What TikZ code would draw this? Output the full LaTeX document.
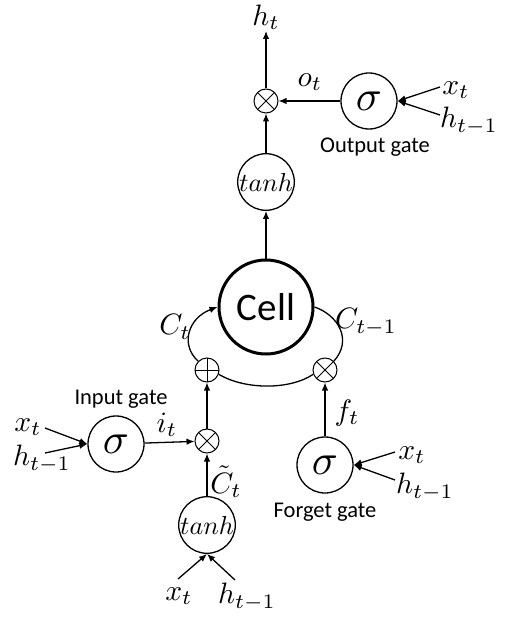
\documentclass[tikz,border=0pt]{standalone}
\usepackage{fontspec}
\setmainfont{Carlito}
\usepackage{graphicx}
\usepackage{tikz}
\usetikzlibrary{arrows.meta}

\newcommand{\mlab}[1]{\scalebox{2.95}{$#1$}}
\newcommand{\sigsym}{\scalebox{4.3}{$\sigma$}}
\newcommand{\tanhsym}{\scalebox{2.6}{$tanh$}}
\newcommand{\gatefont}{\fontsize{22.5}{24}\selectfont}
\newcommand{\cellfont}{\fontsize{39}{40}\selectfont}

\begin{document}
\begin{tikzpicture}[x=1pt, y=-1pt,
    arr/.style={-{Latex[length=8pt,width=6.5pt]}, line width=1.3pt},
    gate/.style={circle, draw, line width=1.3pt, minimum size=56pt, inner sep=0pt},
    opnode/.style={circle, draw, line width=1pt, minimum size=24pt, inner sep=0pt},
    mulop/.style={opnode, path picture={\draw[line width=0.8pt] (path picture bounding box.north west) -- (path picture bounding box.south east) (path picture bounding box.north east) -- (path picture bounding box.south west);}},
    addop/.style={opnode, path picture={\draw[line width=0.8pt] (path picture bounding box.north) -- (path picture bounding box.south) (path picture bounding box.west) -- (path picture bounding box.east);}},
    lbl/.style={inner sep=1pt},
    txt/.style={inner sep=0pt, font=\gatefont}]
    \useasboundingbox (0,0) rectangle (505,617);

    % Cell 和上面的输出
    \node[circle, draw, line width=3pt, minimum size=94pt, inner sep=0pt, font=\cellfont] (cell) at (266,307) {Cell};
    \node[gate, minimum size=55pt] (tanhC) at (266,182) {\tanhsym};
    \node[mulop] (mulO) at (266,101) {};
    \node[lbl, anchor=south] (ht) at (266,31) {\mlab{h_t}};
    \draw[arr] (cell) -- (tanhC);
    \draw[arr] (tanhC) -- (mulO);
    \draw[arr] (mulO) -- (ht);

    % Output gate
    \node[gate] (sigO) at (369,101) {\sigsym};
    \node[txt] (outgate) at (375,147) {Output gate};
    \node[lbl] (ot) at (310,82) {\mlab{o_t}};
    \node[lbl] (xO) at (456,90) {\mlab{x_t}};
    \node[lbl] (hO) at (469,121) {\mlab{h_{t-1}}};
    \coordinate (cxO) at (440,87);
    \coordinate (chO) at (440,115);
    \draw[arr] (sigO) -- (mulO);
    \draw[arr] (cxO) -- (sigO.east);
    \draw[arr] (chO) -- (sigO.east);

    % C_t 的更新
    \node[addop] (addC) at (207,370) {};
    \node[mulop] (mulF) at (325,370) {};
    \node[lbl] (Ct) at (175,327) {\mlab{C_t}};
    \node[lbl] (Ct1) at (366,322) {\mlab{C_{t-1}}};
    \draw[arr] (addC.135) .. controls (180,345) and (188,318) .. (cell.west);
    \draw[line width=1.3pt] (cell.east) .. controls (338,315) and (353,340) .. (mulF.45);
    \draw[line width=1.3pt] (addC.-20) .. controls (245,390) and (290,390) .. (mulF.200);

    % Input gate
    \node[gate] (sigI) at (116,444) {\sigsym};
    \node[txt] (ingate) at (121,399) {Input gate};
    \node[mulop] (mulI) at (207,441) {};
    \node[lbl] (it) at (167,425) {\mlab{i_t}};
    \node[lbl] (xI) at (28,427) {\mlab{x_t}};
    \node[lbl] (hI) at (42,459) {\mlab{h_{t-1}}};
    \coordinate (cxI) at (45,428);
    \coordinate (chI) at (45,453);
    \draw[arr] (cxI) -- (sigI.west);
    \draw[arr] (chI) -- (sigI.west);
    \draw[arr] (sigI) -- (mulI);
    \draw[arr] (mulI) -- (addC);

    % 候选值 tanh
    \node[gate] (tanhI) at (207,525) {\tanhsym};
    \node[lbl] (Ctil) at (226,482) {\mlab{\tilde{C}_t}};
    \node[lbl] (xB) at (179,596) {\mlab{x_t}};
    \node[lbl] (hB) at (247,597) {\mlab{h_{t-1}}};
    \coordinate (cxB) at (178,579);
    \coordinate (chB) at (235,580);
    \draw[arr] (cxB) -- (tanhI.south);
    \draw[arr] (chB) -- (tanhI.south);
    \draw[arr] (tanhI) -- (mulI);

    % Forget gate
    \node[gate] (sigF) at (325,465) {\sigsym};
    \node[txt] (fgate) at (325,512) {Forget gate};
    \node[lbl] (ft) at (347,413) {\mlab{f_t}};
    \node[lbl] (xF) at (412,455) {\mlab{x_t}};
    \node[lbl] (hF) at (425,487) {\mlab{h_{t-1}}};
    \coordinate (cxF) at (395,452);
    \coordinate (chF) at (395,480);
    \draw[arr] (cxF) -- (sigF.east);
    \draw[arr] (chF) -- (sigF.east);
    \draw[arr] (sigF) -- (mulF);
\end{tikzpicture}
\end{document}
